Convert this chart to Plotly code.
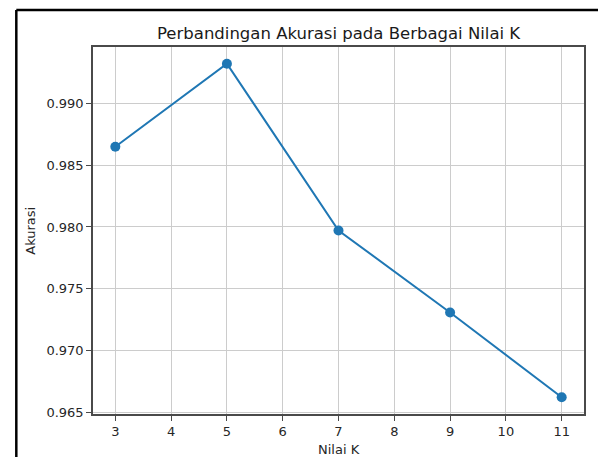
import plotly.graph_objects as go

# Accuracy of the classifier for each tested K
k_values = [3, 5, 7, 9, 11]
accuracy = [0.98647, 0.99318, 0.97972, 0.97310, 0.96625]
y_ticks = [0.965, 0.970, 0.975, 0.980, 0.985, 0.990]
x_ticks = [3, 4, 5, 6, 7, 8, 9, 10, 11]

title_text = "Perbandingan Akurasi pada Berbagai Nilai K"
x_label = "Nilai K"
y_label = "Akurasi"

W, H = 598, 457
L, R, T, B = 93, 12, 47, 43
pw, ph = W - L - R, H - T - B

def px_x(p):
    return (p - L) / pw

def px_y(p):
    return 1 - (p - T) / ph

# 5% padding around the data, like matplotlib's default margins
xpad = (max(k_values) - min(k_values)) * 0.05
ypad = (max(accuracy) - min(accuracy)) * 0.05
x_range = [min(k_values) - xpad, max(k_values) + xpad]
y_range = [min(accuracy) - ypad, max(accuracy) + ypad]

blue = "#1f77b4"
spine = "#4a4a4a"
font = "DejaVu Sans"

fig = go.Figure()
fig.add_trace(go.Scatter(
    x=k_values, y=accuracy, mode="lines+markers",
    line=dict(color=blue, width=2),
    marker=dict(color=blue, size=10),
    showlegend=False, hoverinfo="x+y",
))

axis_common = dict(
    showgrid=True, gridcolor="#cccccc", gridwidth=1,
    showline=True, linecolor=spine, linewidth=1.5, mirror=True,
    ticks="outside", ticklen=5, tickwidth=1.2, tickcolor=spine,
    tickfont=dict(family=font, size=13, color="#262626"),
    zeroline=False,
)

fig.update_xaxes(range=x_range, tickvals=x_ticks,
                 ticktext=[str(v) for v in x_ticks], **axis_common)
fig.update_yaxes(range=y_range, tickvals=y_ticks,
                 ticktext=[f"{v:.3f}" for v in y_ticks], **axis_common)

fig.update_layout(
    width=W, height=H,
    margin=dict(l=L, r=R, t=T, b=B),
    paper_bgcolor="white", plot_bgcolor="white",
    font=dict(family=font, color="#262626"),
    annotations=[
        dict(text=title_text, xref="paper", yref="paper",
             x=0.5, y=px_y(33), xanchor="center", yanchor="middle",
             showarrow=False, font=dict(family=font, size=16.5, color="#1a1a1a")),
        dict(text=x_label, xref="paper", yref="paper",
             x=0.5, y=px_y(449), xanchor="center", yanchor="middle",
             showarrow=False, font=dict(family=font, size=13, color="#262626")),
        dict(text=y_label, xref="paper", yref="paper",
             x=px_x(30), y=0.5, xanchor="center", yanchor="middle",
             textangle=-90, showarrow=False,
             font=dict(family=font, size=13, color="#262626")),
    ],
    shapes=[
        # outer frame drawn around the chart
        dict(type="line", xref="paper", yref="paper",
             x0=px_x(16), y0=px_y(10), x1=px_x(W + 5), y1=px_y(10),
             line=dict(color="black", width=2.5)),
        dict(type="line", xref="paper", yref="paper",
             x0=px_x(16), y0=px_y(10), x1=px_x(16), y1=px_y(H + 5),
             line=dict(color="black", width=2.5)),
    ],
)

fig.write_html("out.html")
